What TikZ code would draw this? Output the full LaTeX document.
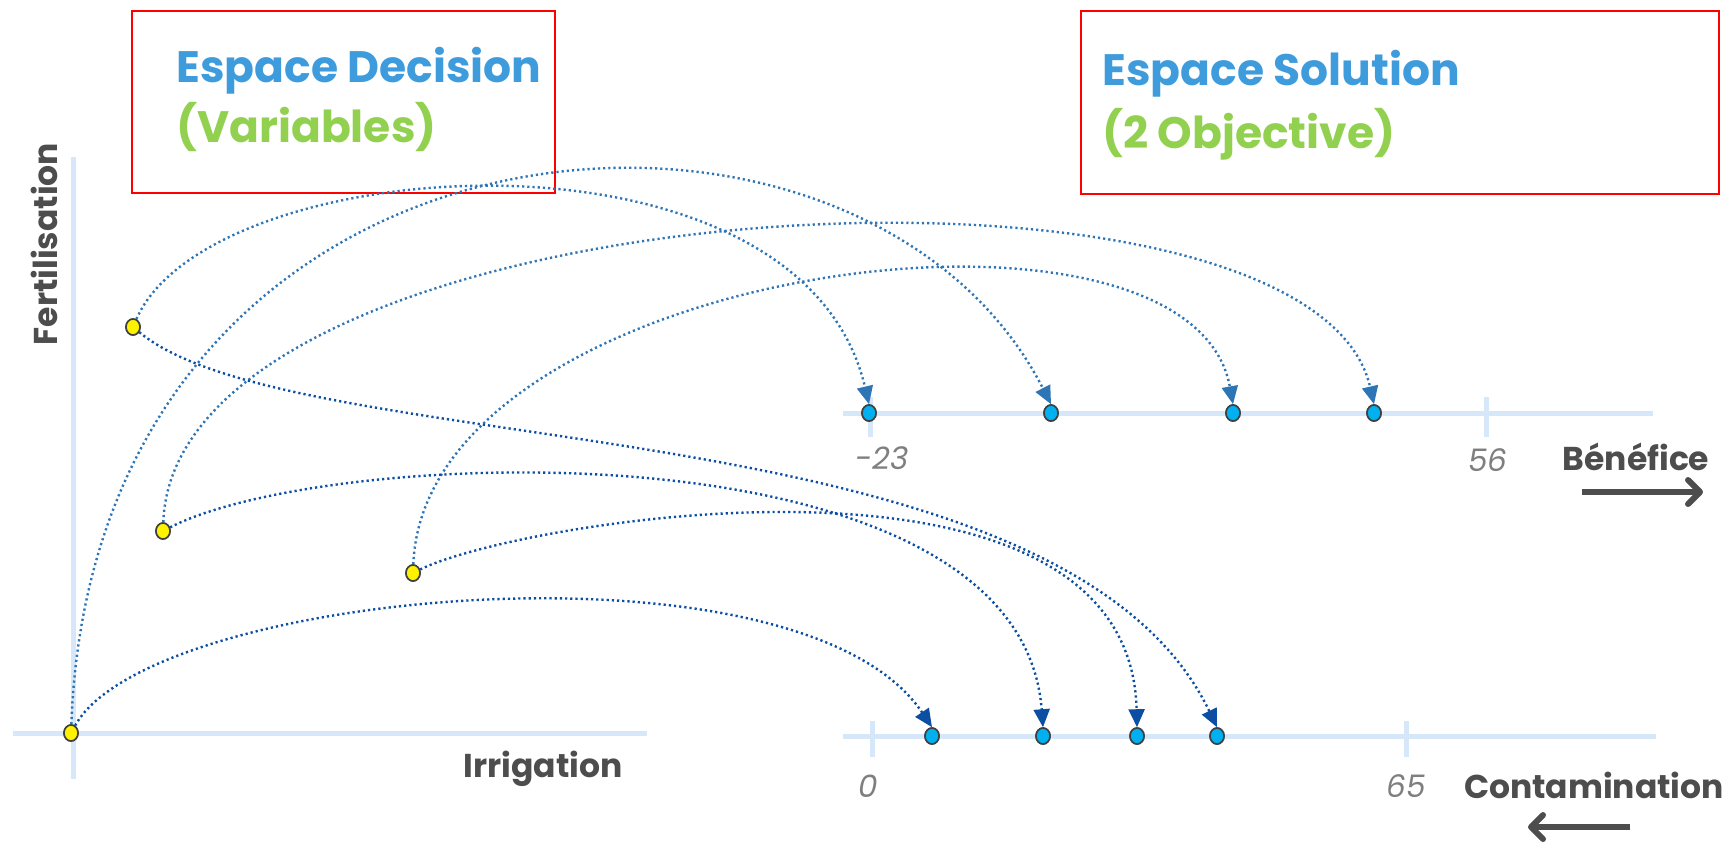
\documentclass[tikz,border=0pt]{standalone}
\usepackage{fontspec}
\setmainfont{Poppins}
\usetikzlibrary{arrows.meta,shapes.geometric}
\definecolor{axisblue}{HTML}{D5E7F8}
\definecolor{titleblue}{HTML}{3E9BDC}
\definecolor{titlegreen}{HTML}{92D050}
\definecolor{labgray}{HTML}{4D4D4D}
\definecolor{tickgray}{HTML}{7F7F7F}
\definecolor{lineup}{HTML}{2E75B6}
\definecolor{linedown}{HTML}{0B4EA2}
\definecolor{dotblue}{HTML}{00B0F0}
\definecolor{dotedge}{HTML}{404040}
\begin{document}
\begin{tikzpicture}[x=0.5pt,y=-0.5pt,
  axisline/.style={draw=axisblue, line width=2.5pt},
  frame/.style={draw=red, line width=1pt},
  ydot/.style={ellipse, draw=dotedge, fill=yellow, line width=0.8pt, minimum width=7pt, minimum height=8pt, inner sep=0pt},
  bdot/.style={ellipse, draw=dotedge, fill=dotblue, line width=0.8pt, minimum width=7pt, minimum height=8pt, inner sep=0pt},
  upconn/.style={draw=lineup, line width=1.2pt, dash pattern=on 1.1pt off 1.5pt, -{Triangle[length=9pt,width=8pt,fill=lineup]}},
  downconn/.style={draw=linedown, line width=1.2pt, dash pattern=on 1.1pt off 1.5pt, -{Triangle[length=9pt,width=8pt,fill=linedown]}},
  title/.style={anchor=west, inner sep=0pt, font=\bfseries\fontsize{22}{26}\selectfont},
  axlabel/.style={inner sep=0pt, text=labgray, font=\bfseries\fontsize{16.5}{20}\selectfont},
  ticklabel/.style={inner sep=0pt, text=tickgray, font=\itshape\fontsize{15.5}{18}\selectfont},
  bigarrow/.style={draw=labgray, line width=3pt, -{Straight Barb[length=6pt,width=12pt,round]}}
]
\useasboundingbox (0,0) rectangle (1728,843);
% frames
\draw[frame] (132,11) rectangle (555,193);
\draw[frame] (1081,11) rectangle (1719,194);
\node[title, text=titleblue] (t1) at (176,71) {Espace Decision};
\node[title, text=titlegreen] (t2) at (176,127) {(Variables)};
\node[title, text=titleblue] (t3) at (1102,74) {Espace Solution};
\node[title, text=titlegreen] (t4) at (1102,134) {(2 Objective)};
% decision axes
\coordinate (vy0) at (73,157);
\coordinate (vy1) at (73,779);
\coordinate (hx0) at (13,733);
\coordinate (hx1) at (647,733);
\draw[axisline] (vy0) -- (vy1);
\draw[axisline] (hx0) -- (hx1);
\node[axlabel, rotate=90] (fert) at (44,244) {Fertilisation};
\node[axlabel] (irr) at (543,769) {Irrigation};
% solution axes
\coordinate (ta0) at (843,413);
\coordinate (ta1) at (1653,413);
\coordinate (ba0) at (843,736);
\coordinate (ba1) at (1656,736);
\draw[axisline] (ta0) -- (ta1);
\draw[axisline] (ba0) -- (ba1);
\coordinate (tk1a) at (870,397); \coordinate (tk1b) at (870,437);
\coordinate (tk2a) at (1486,397); \coordinate (tk2b) at (1486,437);
\coordinate (tk3a) at (872,721); \coordinate (tk3b) at (872,757);
\coordinate (tk4a) at (1406,721); \coordinate (tk4b) at (1406,757);
\draw[axisline] (tk1a) -- (tk1b);
\draw[axisline] (tk2a) -- (tk2b);
\draw[axisline] (tk3a) -- (tk3b);
\draw[axisline] (tk4a) -- (tk4b);
\node[ticklabel] (lm23) at (882,458) {-23};
\node[ticklabel] (l56) at (1488,460) {56};
\node[ticklabel] (l0) at (868,786) {0};
\node[ticklabel] (l65) at (1406,786) {65};
\node[axlabel] (ben) at (1636,457) {Bénéfice};
\node[axlabel] (cont) at (1594,785) {Contamination};
\coordinate (ar1a) at (1582,492); \coordinate (ar1b) at (1703,492);
\coordinate (ar2a) at (1630,827); \coordinate (ar2b) at (1528,827);
\draw[bigarrow] (ar1a) -- (ar1b);
\draw[bigarrow] (ar2a) -- (ar2b);
% dots
\node[ydot] (y1) at (133,327) {};
\node[ydot] (y2) at (163,531) {};
\node[ydot] (y3) at (413,573) {};
\node[ydot] (y4) at (71,733) {};
\node[bdot] (b1) at (869,413) {};
\node[bdot] (b2) at (1051,413) {};
\node[bdot] (b3) at (1233,413) {};
\node[bdot] (b4) at (1374,413) {};
\node[bdot] (c1) at (932,736) {};
\node[bdot] (c2) at (1043,736) {};
\node[bdot] (c3) at (1137,736) {};
\node[bdot] (c4) at (1217,736) {};
% connectors to benefice
\draw[upconn] (y1) .. controls (210,150) and (800,110) .. (b1.north);
\draw[upconn] (y4) .. controls (95,85) and (860,30) .. (b2.north);
\draw[upconn] (y2) .. controls (175,185) and (1310,122) .. (b4.north);
\draw[upconn] (y3) .. controls (425,265) and (1190,165) .. (b3.north);
% connectors to contamination
\draw[downconn] (y1) .. controls (300,465) and (1060,400) .. (c4.north);
\draw[downconn] (y2) .. controls (330,445) and (1020,420) .. (c2.north);
\draw[downconn] (y3) .. controls (520,520) and (1130,420) .. (c3.north);
\draw[downconn] (y4) .. controls (150,590) and (800,530) .. (c1.north);
% redraw dots on top
\foreach \n in {y1,y2,y3,y4}{\node[ydot] at (\n) {};}
\foreach \n in {b1,b2,b3,b4,c1,c2,c3,c4}{\node[bdot] at (\n) {};}
\end{tikzpicture}
\end{document}
